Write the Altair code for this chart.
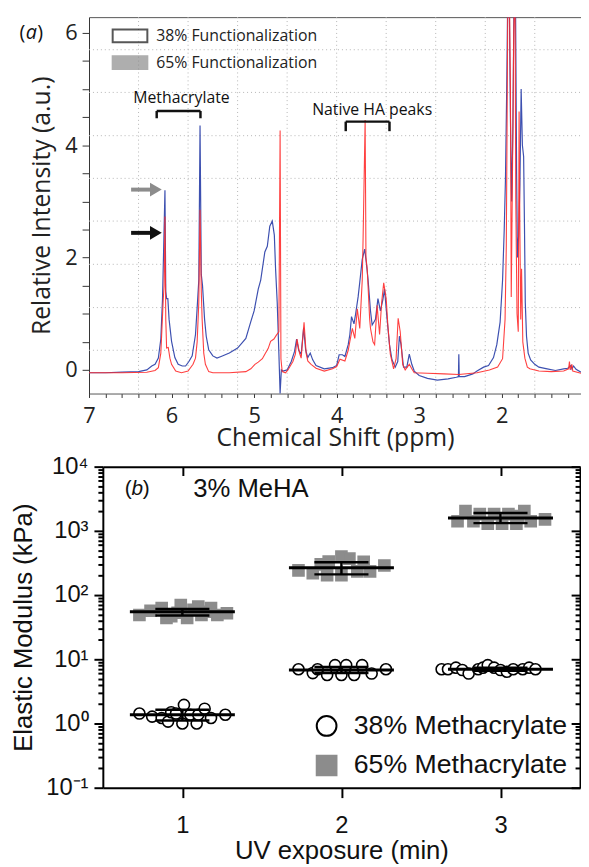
import altair as alt
import pandas as pd

# ---------------- (a) 1H NMR spectra (ppm, relative intensity) ----------------
blue_38 = [(7.00, -0.05), (6.80, -0.05), (6.60, -0.04), (6.40, -0.03), (6.30, 0.00), (6.24, 0.07),
           (6.20, 0.10), (6.16, 0.21), (6.13, 0.55), (6.11, 1.25), (6.095, 2.2), (6.08, 3.20),
           (6.07, 1.4), (6.06, 1.27), (6.045, 1.27), (6.03, 0.9), (6.00, 0.51), (5.96, 0.22),
           (5.92, 0.10), (5.87, 0.07), (5.83, 0.07), (5.79, 0.15), (5.75, 0.25), (5.71, 0.63),
           (5.69, 1.1), (5.67, 1.6), (5.655, 4.35), (5.64, 1.7), (5.625, 1.5), (5.60, 0.9),
           (5.58, 0.6), (5.55, 0.36), (5.50, 0.25), (5.45, 0.21), (5.40, 0.24), (5.30, 0.30),
           (5.20, 0.39), (5.10, 0.56), (5.04, 0.86), (5.00, 1.05), (4.95, 1.44), (4.92, 1.6),
           (4.87, 2.1), (4.84, 2.2), (4.81, 2.56), (4.78, 2.65), (4.755, 2.4), (4.74, 1.8),
           (4.72, 1.2), (4.70, 0.3), (4.685, -0.42), (4.67, 0.0), (4.65, -0.02), (4.60, 0.0),
           (4.55, 0.15), (4.51, 0.33), (4.485, 0.55), (4.46, 0.35), (4.43, 0.28), (4.40, 0.75),
           (4.375, 0.35), (4.35, 0.22), (4.32, 0.30), (4.29, 0.18), (4.25, 0.08), (4.15, 0.02),
           (4.05, 0.04), (4.00, 0.08), (3.97, 0.27), (3.93, 0.27), (3.90, 0.24), (3.86, 0.45),
           (3.84, 0.63), (3.82, 0.95), (3.79, 0.82), (3.77, 1.0), (3.74, 1.3), (3.72, 1.56),
           (3.69, 1.97), (3.66, 2.15), (3.64, 1.9), (3.62, 1.62), (3.59, 1.05), (3.57, 0.80),
           (3.55, 0.85), (3.53, 0.90), (3.50, 1.27), (3.47, 1.05), (3.44, 1.25), (3.42, 1.44),
           (3.39, 0.92), (3.36, 0.45), (3.33, 0.18), (3.29, 0.05), (3.26, 0.15), (3.24, 0.60),
           (3.22, 0.45), (3.19, 0.05), (3.15, 0.05), (3.12, 0.28), (3.09, 0.10), (3.06, -0.02),
           (3.00, -0.10), (2.90, -0.15), (2.78, -0.18), (2.65, -0.16), (2.55, -0.13),
           (2.525, -0.12), (2.52, 0.28), (2.515, -0.12), (2.45, -0.12), (2.35, -0.07),
           (2.30, -0.02), (2.22, 0.05), (2.16, 0.08), (2.10, 0.22), (2.06, 0.45), (2.02, 0.85),
           (1.99, 1.6), (1.97, 2.5), (1.955, 3.4), (1.94, 5.0), (1.925, 7.0), (1.91, 6.8),
           (1.895, 4.5), (1.88, 3.0), (1.865, 4.3), (1.85, 6.9), (1.835, 7.0), (1.82, 3.5),
           (1.81, 2.0), (1.795, 2.4), (1.78, 3.3), (1.765, 5.0), (1.75, 4.0), (1.735, 3.8),
           (1.725, 2.6), (1.715, 1.2), (1.70, 0.6), (1.68, 0.30), (1.65, 0.18), (1.60, 0.10),
           (1.55, 0.05), (1.45, 0.02), (1.35, -0.01), (1.25, 0.02), (1.20, 0.03), (1.16, 0.08),
           (1.15, 0.02), (1.13, 0.07), (1.10, 0.01), (1.04, -0.04)]

red_65 = [(7.00, -0.05), (6.60, -0.05), (6.30, -0.04), (6.20, -0.01), (6.16, 0.04), (6.13, 0.30),
          (6.10, 1.27), (6.09, 1.5), (6.08, 2.73), (6.07, 0.9), (6.06, 0.39), (6.04, 0.40),
          (6.02, 0.21), (6.00, 0.10), (5.95, -0.02), (5.88, -0.05), (5.80, -0.02), (5.74, 0.10),
          (5.71, 0.21), (5.69, 0.5), (5.67, 1.2), (5.655, 2.85), (5.64, 1.4), (5.63, 0.91),
          (5.61, 0.3), (5.59, 0.10), (5.55, -0.03), (5.50, -0.05), (5.30, -0.05), (5.10, -0.03),
          (5.04, 0.02), (4.99, 0.10), (4.95, 0.14), (4.90, 0.2), (4.87, 0.28), (4.83, 0.38),
          (4.80, 0.51), (4.76, 0.55), (4.73, 0.62), (4.70, 0.68), (4.685, 4.26), (4.675, 0.2),
          (4.66, -0.03), (4.62, -0.05), (4.59, 0.00), (4.53, 0.15), (4.50, 0.28), (4.48, 0.55),
          (4.45, 0.30), (4.43, 0.21), (4.395, 0.85), (4.37, 0.30), (4.35, 0.16), (4.31, 0.10),
          (4.25, 0.03), (4.15, -0.02), (4.05, 0.02), (4.00, 0.06), (3.96, 0.19), (3.90, 0.16),
          (3.86, 0.35), (3.84, 0.51), (3.81, 0.74), (3.78, 0.56), (3.75, 1.09), (3.72, 0.74),
          (3.69, 1.6), (3.68, 2.32), (3.655, 4.45), (3.645, 2.0), (3.63, 1.8), (3.60, 0.9),
          (3.59, 0.74), (3.56, 0.50), (3.54, 0.45), (3.51, 1.15), (3.48, 0.63), (3.455, 1.2),
          (3.43, 1.55), (3.40, 1.27), (3.38, 0.8), (3.35, 0.28), (3.31, 0.02), (3.28, 0.2),
          (3.255, 0.92), (3.23, 0.68), (3.20, 0.1), (3.17, 0.0), (3.12, 0.10), (3.09, 0.02),
          (3.06, -0.05), (2.90, -0.06), (2.70, -0.07), (2.52, -0.08), (2.30, -0.05), (2.15, 0.0),
          (2.05, 0.05), (1.99, 0.20), (1.96, 0.9), (1.945, 2.2), (1.935, 4.5), (1.925, 7.0),
          (1.91, 7.0), (1.895, 5.0), (1.885, 1.3), (1.87, 3.5), (1.855, 6.0), (1.84, 7.0),
          (1.83, 3.0), (1.815, 1.0), (1.80, 0.68), (1.79, 4.6), (1.78, 2.4), (1.77, 0.9),
          (1.76, 1.8), (1.745, 0.5), (1.72, 0.21), (1.69, 0.05), (1.66, 0.02), (1.55, -0.02),
          (1.40, -0.03), (1.25, -0.02), (1.19, 0.02), (1.18, 0.15), (1.17, 0.0), (1.15, 0.1),
          (1.14, -0.02), (1.04, -0.06)]

a_x_domain = [1.04, 7.0]
a_y_domain = [-0.42, 6.28]
a_x_ticks = [7, 6.8, 6.6, 6.4, 6.2, 6, 5.8, 5.6, 5.4, 5.2, 5, 4.8, 4.6, 4.4, 4.2, 4, 3.8, 3.6,
             3.4, 3.2, 3, 2.8, 2.6, 2.4, 2.2, 2, 1.8, 1.6, 1.4, 1.2]
a_y_ticks = [0, 0.5, 1, 1.5, 2, 2.5, 3, 3.5, 4, 4.5, 5, 5.5, 6]
a_grid_x = [6.4, 5.8, 5.2, 4.6, 4.0, 3.4, 2.8, 2.2, 1.6]
a_grid_y = [0.35, 1.11, 1.88, 2.65, 3.41, 4.17, 4.94, 5.70]
a_legend = ["38% Functionalization", "65% Functionalization"]

ann_text = ["Methacrylate", "Native HA peaks"]
ann_x = [5.88, 3.57]
ann_y = [4.84, 4.62]
brk_x0 = [6.18, 3.89]
brk_x1 = [5.65, 3.36]
brk_top = [4.61, 4.42]
brk_bot = [4.48, 4.25]

arrow_y = [3.21, 2.44]
arrow_color = ["#8c8c8c", "#111111"]
arrow_x0 = [6.49, 6.49]
arrow_x1 = [6.24, 6.24]
arrow_head = [6.19, 6.19]

# ---------------- (b) elastic modulus ----------------
b_series = ["38% Methacrylate", "65% Methacrylate"]
sq_x = [0.73, 0.80, 0.87, 0.90, 0.93, 0.97, 0.99, 1.03, 1.07, 1.10, 1.12, 1.15, 1.18, 1.22, 1.28,
        1.73, 1.82, 1.87, 1.91, 1.92, 2.00, 2.00, 2.05, 2.10, 2.14, 2.18, 2.27,
        2.73, 2.78, 2.83, 2.87, 2.92, 2.96, 3.01, 3.05, 3.10, 3.11, 3.15, 3.19, 3.28]
sq_E = [49, 57, 63, 44, 47, 53, 70, 44, 59, 66, 49, 55, 63, 49, 52,
        243, 219, 300, 204, 333, 398, 204, 370, 234, 330, 234, 289,
        1410, 2040, 1410, 1820, 1290, 1820, 1290, 1820, 1290, 1700, 2040, 1410, 1510]
ci_x = [0.73, 0.81, 0.87, 0.91, 0.93, 0.96, 1.00, 1.01, 1.05, 1.09, 1.10, 1.14, 1.18, 1.27,
        1.73, 1.82, 1.85, 1.91, 1.96, 2.00, 2.03, 2.08, 2.13, 2.19, 2.28,
        2.63, 2.67, 2.72, 2.76, 2.80, 2.86, 2.89, 2.92, 2.96, 3.00, 3.04, 3.08, 3.14, 3.18, 3.22]
ci_E = [1.43, 1.28, 1.22, 1.07, 1.5, 1.43, 1.0, 1.95, 1.37, 1.0, 1.37, 1.7, 1.22, 1.37,
        7.0, 6.1, 7.0, 5.7, 8.1, 5.7, 8.1, 5.7, 8.1, 6.0, 7.0,
        7.0, 7.0, 7.4, 6.8, 6.0, 7.0, 7.4, 8.1, 7.4, 6.8, 6.4, 7.0, 7.0, 7.4, 7.0]

uv = [1, 2, 3]
mean_38 = [1.37, 6.8, 7.0]
lo_38 = [1.11, 6.1, 6.6]
hi_38 = [1.64, 7.6, 7.4]
mean_65 = [55, 267, 1580]
lo_65 = [48, 210, 1320]
hi_65 = [61, 325, 1900]

b_y_major = [0.1, 1, 10, 100, 1000, 10000]
b_y_ticks = [round(m * 10.0 ** e, 6) for e in range(-1, 4) for m in range(1, 10)] + [10000]

# ---------------- layout ----------------
W, H = 498, 780
A_H = 381
B_TOP = 455
B_LEFT = 14
B_RIGHT = 497

FA = "Open Sans"
FB = "Liberation Sans"
BLUE = "#3d50b0"
RED = "#ff2b2b"
GRAY = "#8c8c8c"

AX = alt.Scale(domain=a_x_domain, range=[W, 0], zero=False, nice=False)
AY = alt.Scale(domain=a_y_domain, range=[A_H, 0], zero=False, nice=False)
BX = alt.Scale(domain=[0.5, 3.5], range=[B_LEFT, B_RIGHT], zero=False, nice=False)
BY = alt.Scale(type="log", domain=[0.1, 10000], range=[H, B_TOP], nice=False)

blue_df = pd.DataFrame(blue_38, columns=["ppm", "I"])
red_df = pd.DataFrame(red_65, columns=["ppm", "I"])

# ---- panel (a) ----
a_xaxis = alt.Axis(orient="bottom", offset=-(H - A_H), values=a_x_ticks,
                   labelExpr="datum.value % 1 == 0 ? format(datum.value, 'd') : ''",
                   labelFlush=False, labelOverlap=False, grid=False,
                   tickSize=4, tickColor="#333333", domainColor="#555555", domainWidth=1,
                   labelFont=FA, labelFontSize=22, labelColor="#222222", labelPadding=8,
                   title="Chemical Shift (ppm)", titleFont=FA, titleFontSize=25,
                   titleFontWeight="normal", titleColor="#222222", titlePadding=0)
a_yaxis = alt.Axis(orient="left", values=a_y_ticks,
                   labelExpr="datum.value % 2 == 0 ? format(datum.value, 'd') : ''",
                   labelFlush=False, labelOverlap=False, grid=False,
                   tickSize=7, tickColor="#333333", domainColor="#333333", domainWidth=1,
                   labelFont=FA, labelFontSize=22, labelColor="#222222", labelPadding=5,
                   title="Relative Intensity (a.u.)", titleFont=FA, titleFontSize=25,
                   titleFontWeight="normal", titleColor="#222222", titlePadding=10)

grid_v = alt.Chart(pd.DataFrame({"gx": a_grid_x})).transform_calculate(
    y0=str(a_y_domain[0]), y1=str(a_y_domain[1])
).mark_rule(color="#b5b5b5", strokeWidth=1, strokeDash=[1, 3]).encode(
    x=alt.X("gx:Q", scale=AX, axis=None),
    y=alt.Y("y0:Q", scale=AY, axis=None), y2="y1:Q")

grid_h = alt.Chart(pd.DataFrame({"gy": a_grid_y})).transform_calculate(
    x0=str(a_x_domain[1]), x1=str(a_x_domain[0])
).mark_rule(color="#b5b5b5", strokeWidth=1, strokeDash=[1, 3]).encode(
    y=alt.Y("gy:Q", scale=AY, axis=None),
    x=alt.X("x0:Q", scale=AX, axis=None), x2="x1:Q")

blue_line = alt.Chart(blue_df).mark_line(color=BLUE, strokeWidth=1.2, clip=True).encode(
    x=alt.X("ppm:Q", scale=AX, axis=a_xaxis),
    y=alt.Y("I:Q", scale=AY, axis=a_yaxis))

red_line = alt.Chart(red_df).mark_line(color=RED, strokeWidth=1.1, clip=True, opacity=0.9).encode(
    x=alt.X("ppm:Q", scale=AX, axis=None),
    y=alt.Y("I:Q", scale=AY, axis=None))

top_border_a = alt.Chart(blue_df.head(2)).mark_point(opacity=0).encode(
    x=alt.X("ppm:Q", scale=AX, axis=alt.Axis(orient="top", labels=False, ticks=False,
                                              title=None, grid=False, domainColor="#555555",
                                              domainWidth=1)),
    y=alt.Y("I:Q", scale=AY, axis=None))

ann_df = pd.DataFrame({"t": ann_text, "x": ann_x, "y": ann_y})
ann = alt.Chart(ann_df).mark_text(font=FA, fontSize=16, color="#111111", baseline="middle").encode(
    x=alt.X("x:Q", scale=AX, axis=None), y=alt.Y("y:Q", scale=AY, axis=None), text="t:N")

brk_df = pd.DataFrame({"x0": brk_x0, "x1": brk_x1, "yt": brk_top, "yb": brk_bot})
brk_h = alt.Chart(brk_df).mark_rule(color="#111111", strokeWidth=2.5).encode(
    x=alt.X("x0:Q", scale=AX, axis=None), x2="x1:Q", y=alt.Y("yt:Q", scale=AY, axis=None))
brk_v = alt.Chart(brk_df).transform_fold(["x0", "x1"], as_=["k", "xe"]).mark_rule(
    color="#111111", strokeWidth=2.5).encode(
    x=alt.X("xe:Q", scale=AX, axis=None), y=alt.Y("yt:Q", scale=AY, axis=None), y2="yb:Q")

arr_df = pd.DataFrame({"y": arrow_y, "c": arrow_color, "x0": arrow_x0, "x1": arrow_x1,
                       "xh": arrow_head})
arr_shaft = alt.Chart(arr_df).mark_rule(strokeWidth=4).encode(
    x=alt.X("x0:Q", scale=AX, axis=None), x2="x1:Q", y=alt.Y("y:Q", scale=AY, axis=None),
    color=alt.Color("c:N", scale=None))
arr_head = alt.Chart(arr_df).mark_point(shape="triangle-right", filled=True, size=190,
                                        opacity=1).encode(
    x=alt.X("xh:Q", scale=AX, axis=None), y=alt.Y("y:Q", scale=AY, axis=None),
    color=alt.Color("c:N", scale=None))

lab_a_df = pd.DataFrame({"x": [7.70], "y": [6.0]})
lab_a = alt.layer(
    alt.Chart(lab_a_df).mark_text(text="(", font=FA, fontSize=20, dx=-9, color="#111111"),
    alt.Chart(lab_a_df).mark_text(text="a", font=FA, fontSize=20, fontStyle="italic",
                                  color="#111111"),
    alt.Chart(lab_a_df).mark_text(text=")", font=FA, fontSize=20, dx=9, color="#111111"),
).encode(x=alt.X("x:Q", scale=AX, axis=None), y=alt.Y("y:Q", scale=AY, axis=None))

RECT = "M-2.7,-1H2.7V1H-2.7Z"
leg_a = alt.Legend(orient="none", legendX=33.5, legendY=11, title=None, padding=0,
                   symbolType=RECT, symbolSize=169, symbolStrokeWidth=2, labelOffset=18.5,
                   rowPadding=5, labelFont=FA, labelFontSize=16, labelColor="#222222",
                   labelLimit=400)
legend_a = alt.Chart(pd.DataFrame({"lab": a_legend})).transform_filter("false").mark_point(
    shape=RECT, filled=True).encode(
    fill=alt.Fill("lab:N", scale=alt.Scale(domain=a_legend, range=["#ffffff", GRAY]),
                  legend=leg_a),
    stroke=alt.Stroke("lab:N", scale=alt.Scale(domain=a_legend, range=["#111111", GRAY]),
                      legend=leg_a))

panel_a = alt.layer(grid_v, grid_h, blue_line, red_line, top_border_a, brk_h, brk_v, ann,
                    arr_shaft, arr_head, lab_a, legend_a).resolve_axis(
    x="independent", y="independent")

# ---- panel (b) ----
pts_df = pd.concat([
    pd.DataFrame({"series": b_series[1], "x": sq_x, "E": sq_E}),
    pd.DataFrame({"series": b_series[0], "x": ci_x, "E": ci_E}),
], ignore_index=True)

sum_df = pd.concat([
    pd.DataFrame({"series": b_series[0], "g": uv, "mean": mean_38, "lo": lo_38, "hi": hi_38}),
    pd.DataFrame({"series": b_series[1], "g": uv, "mean": mean_65, "lo": lo_65, "hi": hi_65}),
], ignore_index=True)

major_test = "indexof([0.1, 1, 10, 100, 1000, 10000], datum.value) >= 0"
sup_expr = ("datum.value == 10000 ? '10\u2074' : datum.value == 1000 ? '10\u00b3' : "
            "datum.value == 100 ? '10\u00b2' : datum.value == 10 ? '10\u00b9' : "
            "datum.value == 1 ? '10\u2070' : datum.value == 0.1 ? '10\u207b\u00b9' : ''")

b_xaxis = alt.Axis(orient="bottom", values=uv, format="d", grid=False, labelFlush=False,
                   tickSize=10, tickWidth=2, tickColor="black", domainColor="black",
                   domainWidth=2, labelFont=FB, labelFontSize=24, labelColor="#111111",
                   labelPadding=16, title="UV exposure (min)", titleFont=FB, titleFontSize=26,
                   titleFontWeight="normal", titleColor="#111111", titlePadding=1)
b_yaxis = alt.Axis(orient="left", offset=-B_LEFT, values=b_y_ticks, labelExpr=sup_expr,
                   labelOverlap=False, labelFlush=False, grid=False,
                   tickSize={"condition": {"test": major_test, "value": 9}, "value": 5},
                   tickWidth=2, tickColor="black", domainColor="black", domainWidth=2,
                   labelFont=FB, labelFontSize=24, labelColor="#111111", labelPadding=6,
                   title="Elastic Modulus (kPa)", titleFont=FB, titleFontSize=26,
                   titleFontWeight="normal", titleColor="#111111", titlePadding=10)

leg_b = alt.Legend(orient="none", legendX=227, legendY=704, title=None, padding=0,
                   symbolSize=400, symbolStrokeWidth=2, labelOffset=14, rowPadding=11,
                   labelFont=FB, labelFontSize=27, labelColor="#111111", labelLimit=400)

points = alt.Chart(pts_df).mark_point(filled=True, size=125, strokeWidth=1.6, opacity=1).encode(
    x=alt.X("x:Q", scale=BX, axis=b_xaxis),
    y=alt.Y("E:Q", scale=BY, axis=b_yaxis),
    shape=alt.Shape("series:N", scale=alt.Scale(domain=b_series, range=["circle", "square"]),
                    legend=leg_b),
    fill=alt.Fill("series:N", scale=alt.Scale(domain=b_series, range=["#ffffff", GRAY]),
                  legend=leg_b),
    stroke=alt.Stroke("series:N", scale=alt.Scale(domain=b_series, range=["#000000", GRAY]),
                      legend=leg_b))

mean_rule = alt.Chart(sum_df).transform_calculate(
    xa="datum.g - 0.33", xb="datum.g + 0.33").mark_rule(color="black", strokeWidth=3).encode(
    x=alt.X("xa:Q", scale=BX, axis=None), x2="xb:Q", y=alt.Y("mean:Q", scale=BY, axis=None))
caps = alt.Chart(sum_df).transform_fold(["lo", "hi"], as_=["k", "v"]).transform_calculate(
    xa="datum.g - 0.17", xb="datum.g + 0.17").mark_rule(color="black", strokeWidth=2.5).encode(
    x=alt.X("xa:Q", scale=BX, axis=None), x2="xb:Q", y=alt.Y("v:Q", scale=BY, axis=None))
vbar = alt.Chart(sum_df).mark_rule(color="black", strokeWidth=2.5).encode(
    x=alt.X("g:Q", scale=BX, axis=None), y=alt.Y("lo:Q", scale=BY, axis=None), y2="hi:Q")

top_axis_b = alt.Chart(sum_df).mark_point(opacity=0).encode(
    x=alt.X("g:Q", scale=BX, axis=alt.Axis(orient="bottom", offset=-(H - B_TOP), values=uv,
                                            labels=False, title=None, grid=False, tickSize=9,
                                            tickWidth=2, tickColor="black", domainColor="black",
                                            domainWidth=2)),
    y=alt.Y("mean:Q", scale=BY, axis=None))
right_axis_b = alt.Chart(sum_df).mark_point(opacity=0).encode(
    x=alt.X("g:Q", scale=BX, axis=None),
    y=alt.Y("mean:Q", scale=BY, axis=alt.Axis(
        orient="left", offset=-B_RIGHT, values=b_y_ticks, labels=False, title=None, grid=False,
        tickSize={"condition": {"test": major_test, "value": 9}, "value": 5},
        tickWidth=2, tickColor="black", domainColor="black", domainWidth=2)))

lab_b_df = pd.DataFrame({"x": [0.716], "y": [4430]})
lab_b = alt.layer(
    alt.Chart(lab_b_df).mark_text(text="(", font=FB, fontSize=21, dx=-9, color="#111111"),
    alt.Chart(lab_b_df).mark_text(text="b", font=FB, fontSize=21, fontStyle="italic",
                                  color="#111111"),
    alt.Chart(lab_b_df).mark_text(text=")", font=FB, fontSize=21, dx=9, color="#111111"),
).encode(x=alt.X("x:Q", scale=BX, axis=None), y=alt.Y("y:Q", scale=BY, axis=None))
meha = alt.Chart(pd.DataFrame({"x": [1.068], "y": [4430], "t": ["3% MeHA"]})).mark_text(
    font=FB, fontSize=26, align="left", color="#111111").encode(
    x=alt.X("x:Q", scale=BX, axis=None), y=alt.Y("y:Q", scale=BY, axis=None), text="t:N")

panel_b = alt.layer(points, mean_rule, caps, vbar, top_axis_b, right_axis_b, lab_b,
                    meha).resolve_axis(x="independent", y="independent")

chart = alt.layer(panel_a, panel_b).resolve_scale(
    x="independent", y="independent", fill="independent", stroke="independent",
    shape="independent"
).properties(
    width=W, height=H,
    padding={"left": 82, "top": 4, "right": 0, "bottom": 75},
    autosize=alt.AutoSizeParams(type="none"),
    background="white",
).configure_view(stroke=None)

chart.save("out.html", embed_options={"renderer": "svg", "actions": False})
